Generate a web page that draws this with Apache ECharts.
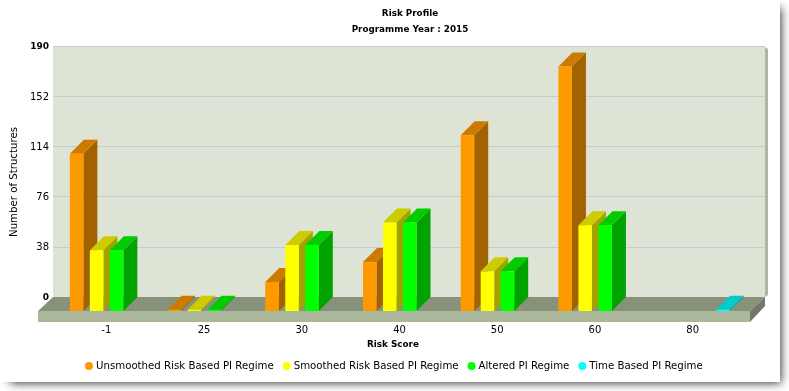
<!DOCTYPE html>
<html>
<head>
<meta charset="utf-8">
<style>html,body{margin:0;padding:0;background:#fff}#c{width:789px;height:391px}</style>
<script src="https://cdn.jsdelivr.net/npm/echarts@6/dist/echarts.min.js"></script>
</head>
<body>
<div id="c"></div>
<script>
const categories = ['-1','25','30','40','50','60','80'];
const unsmoothed = [119,1,22,37,133,185,null];
const smoothed   = [46,1,50,67,30,65,null];
const altered    = [46,1,50,67,30,65,null];
const timeBased  = [null,null,null,null,null,null,1];
const seriesNames = ['Unsmoothed Risk Based PI Regime','Smoothed Risk Based PI Regime','Altered PI Regime','Time Based PI Regime'];
const yMax = 190, yStep = 38;
const titleMain = 'Risk Profile', titleSub = 'Programme Year : 2015';
const xName = 'Risk Score', yName = 'Number of Structures';

const FONT = '"DejaVu Sans", Verdana, sans-serif';
const palette = [
  {front:'#FF9900',top:'#CC7A00',side:'#A36200'},
  {front:'#FFFF00',top:'#CCCC00',side:'#A3A300'},
  {front:'#00FF00',top:'#00CC00',side:'#00A300'},
  {front:'#00FFFF',top:'#00CCCC',side:'#00A3A3'}
];
const DEPTH = 14, BAR_W = 13.5, SLOT = 20;

function barRenderer(slot, col){
  return function(params, api){
    const v = api.value(1);
    if (v === null || v === undefined || isNaN(v)) return;
    const top = api.coord([api.value(0), v]);
    const base = api.coord([api.value(0), 0]);
    const x0 = top[0] - 36.5 + slot * SLOT;
    const x1 = x0 + BAR_W;
    const yt = top[1], yb = base[1];
    return {type:'group', children:[
      {type:'polygon', shape:{points:[[x1,yt],[x1+DEPTH,yt-DEPTH],[x1+DEPTH,yb-DEPTH],[x1,yb]]}, style:{fill:col.side}},
      {type:'polygon', shape:{points:[[x0,yt],[x0+DEPTH,yt-DEPTH],[x1+DEPTH,yt-DEPTH],[x1,yt]]}, style:{fill:col.top}},
      {type:'rect', shape:{x:x0,y:yt,width:BAR_W,height:yb-yt}, style:{fill:col.front}}
    ]};
  };
}
function toSeries(name, values, i){
  return {
    type:'custom', name, xAxisIndex:1, yAxisIndex:1, coordinateSystem:'cartesian2d',
    encode:{x:0,y:1}, clip:false, silent:true, z:5,
    itemStyle:{color:palette[i].front},
    renderItem:barRenderer(i, palette[i]),
    data:values.map((v,k)=>[categories[k],v]).filter(d=>d[1]!==null)
  };
}
const poly = (pts, fill, z) => ({type:'polygon', z, silent:true, shape:{points:pts}, style:{fill}});

const chart = echarts.init(document.getElementById('c'), null, {renderer:'canvas'});
chart.setOption({
  animation:false,
  backgroundColor:'#fff',
  textStyle:{fontFamily:FONT},
  title:[
    {text:titleMain,left:405,top:4,textAlign:'center',textStyle:{fontFamily:FONT,fontSize:8.8,fontWeight:'bold',color:'#000'}},
    {text:titleSub,left:405,top:20,textAlign:'center',textStyle:{fontFamily:FONT,fontSize:8.8,fontWeight:'bold',color:'#000'}}
  ],
  graphic:[
    {type:'rect',z:-10,silent:true,shape:{x:9,y:7,width:771,height:375},
      style:{fill:'#fff',shadowColor:'rgba(0,0,0,0.8)',shadowBlur:9,shadowOffsetX:1,shadowOffsetY:1}},
    {type:'rect',z:-9,silent:true,shape:{x:0,y:0,width:780,height:382},style:{fill:'#fff'}},
    poly([[765,47],[768,49],[768,295],[765,297]],'#AFB5A7',1),
    poly([[38,311],[53,297],[765,297],[750,311]],'#88927A',1),
    poly([[38,311],[750,311],[750,322],[38,322]],'#ABB79B',1),
    poly([[750,311],[765,297],[765,306],[750,322]],'#72796A',1)
  ],
  grid:[
    {left:53,top:46,width:712,height:251,show:true,backgroundColor:'#DDE3D5',borderWidth:0},
    {left:57.5,top:60,width:684,height:251}
  ],
  xAxis:[
    {gridIndex:0,type:'category',data:categories,show:false},
    {gridIndex:1,type:'category',data:categories,
      axisLine:{show:false},axisTick:{show:false},
      axisLabel:{margin:14,fontFamily:FONT,fontSize:10,color:'#000'},
      name:xName,nameLocation:'middle',nameGap:29,
      nameTextStyle:{fontFamily:FONT,fontSize:8.8,fontWeight:'bold',color:'#000',padding:[0,13,0,0]}}
  ],
  yAxis:[
    {gridIndex:0,type:'value',min:0,max:yMax,interval:yStep,
      axisLine:{show:false},axisTick:{show:false},
      splitLine:{show:true,lineStyle:{color:'#C8CACC',width:1}},
      axisLabel:{margin:4,padding:[2,0,0,0],fontFamily:FONT,fontSize:10,color:'#000',
        formatter:v=>(v===0||v===yMax)?('{b|'+v+'}'):(''+v),
        rich:{b:{fontFamily:FONT,fontSize:9,fontWeight:'bold',color:'#000'}}},
      name:yName,nameLocation:'middle',nameGap:33,nameRotate:90,
      nameTextStyle:{fontFamily:FONT,fontSize:10.2,color:'#000',padding:[0,21,0,0]}},
    {gridIndex:1,type:'value',min:0,max:yMax,interval:yStep,show:false,splitLine:{show:false}}
  ],
  legend:{
    left:80,top:356,icon:'circle',itemWidth:8,itemHeight:8,itemGap:9,
    selectedMode:false,
    textStyle:{fontFamily:FONT,fontSize:10.2,color:'#000',padding:[0,0,0,-2]},
    data:seriesNames
  },
  series:[unsmoothed,smoothed,altered,timeBased].map((v,i)=>toSeries(seriesNames[i],v,i))
});
</script>
</body>
</html>
